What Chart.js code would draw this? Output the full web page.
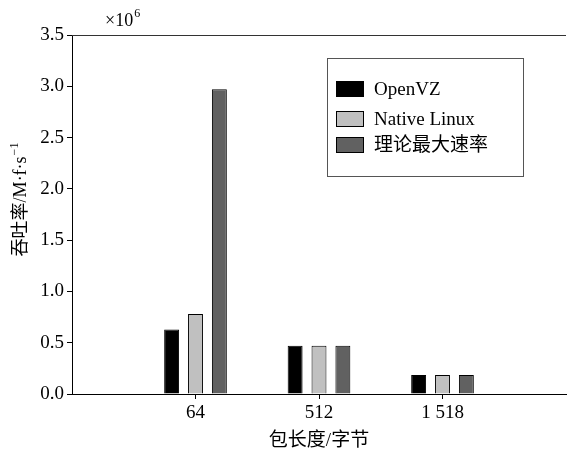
<!DOCTYPE html>
<html>
<head>
<meta charset="utf-8">
<script src="https://cdn.jsdelivr.net/npm/chart.js@4/dist/chart.umd.min.js"></script>
<style>
  html, body { margin: 0; padding: 0; background: #fff; }
  #wrap { width: 569px; height: 455px; }
</style>
</head>
<body>
<div id="wrap"><canvas id="c" width="569" height="455"></canvas></div>
<script>
// ---- data ----
const categories = ['', '64', '512', '1 518', ''];
const seriesNames = ['OpenVZ', 'Native Linux', '理论最大速率'];
const openvzValues = [null, 0.63, 0.47, 0.185, null];
const nativeLinuxValues = [null, 0.78, 0.47, 0.185, null];
const maxRateValues = [null, 2.97, 0.47, 0.185, null];
const yTickValues = [0, 0.5, 1.0, 1.5, 2.0, 2.5, 3.0, 3.5];
const xTitle = '包长度/字节';
const yTitleMain = '吞吐率/M·f·s';
const yTitleSup = '−1';
const multiplierMain = '×10';
const multiplierSup = '6';

const SERIF = '"Liberation Serif", "Noto Sans CJK SC", serif';
Chart.defaults.font.family = SERIF;
Chart.defaults.color = '#000';

const decor = {
  id: 'decor',
  afterDraw(chart) {
    const { ctx, chartArea: a } = chart;
    ctx.save();
    // top frame line
    ctx.strokeStyle = '#333';
    ctx.lineWidth = 1;
    ctx.beginPath();
    ctx.moveTo(a.left, Math.round(a.top) + 0.5);
    ctx.lineTo(a.right, Math.round(a.top) + 0.5);
    ctx.stroke();

    // multiplier
    ctx.fillStyle = '#000';
    ctx.textBaseline = 'alphabetic';
    ctx.textAlign = 'left';
    ctx.font = '18px ' + SERIF;
    ctx.fillText(multiplierMain, 105, 26);
    const mw = ctx.measureText(multiplierMain).width;
    ctx.font = '12px ' + SERIF;
    ctx.fillText(multiplierSup, 105 + mw + 1, 17);

    // y title (rotated)
    ctx.save();
    ctx.translate(26, 200);
    ctx.rotate(-Math.PI / 2);
    ctx.font = '18px ' + SERIF;
    const w1 = ctx.measureText(yTitleMain).width;
    ctx.font = '12px ' + SERIF;
    const w2 = ctx.measureText(yTitleSup).width;
    const start = -(w1 + w2) / 2;
    ctx.font = '18px ' + SERIF;
    ctx.fillStyle = '#000';
    ctx.fillText(yTitleMain, start, 0);
    ctx.font = '12px ' + SERIF;
    ctx.fillText(yTitleSup, start + w1 + 1, -8);
    ctx.restore();

    // legend box
    ctx.strokeStyle = '#555';
    ctx.lineWidth = 1;
    ctx.strokeRect(327.5, 58.5, 196, 118);
    const ys = [81, 111, 137];
    chart.data.datasets.forEach((ds, i) => {
      ctx.fillStyle = ds.backgroundColor;
      ctx.fillRect(336, ys[i], 28, 16);
      ctx.strokeStyle = '#000';
      ctx.strokeRect(336.5, ys[i] + 0.5, 27, 15);
      ctx.fillStyle = '#000';
      ctx.font = '19px ' + SERIF;
      ctx.textBaseline = 'middle';
      ctx.fillText(ds.label, 374, ys[i] + 9);
    });
    ctx.restore();
  }
};

const barOpts = { borderColor: '#000', borderWidth: 1, barPercentage: 0.625, categoryPercentage: 0.58 };

new Chart(document.getElementById('c'), {
  type: 'bar',
  data: {
    labels: categories,
    datasets: [
      Object.assign({ label: seriesNames[0], data: openvzValues, backgroundColor: '#000000' }, barOpts),
      Object.assign({ label: seriesNames[1], data: nativeLinuxValues, backgroundColor: '#c0c0c0' }, barOpts),
      Object.assign({ label: seriesNames[2], data: maxRateValues, backgroundColor: '#616161' }, barOpts)
    ]
  },
  options: {
    responsive: false,
    animation: false,
    devicePixelRatio: 1,
    layout: { padding: { top: 35, right: 0, left: 0, bottom: 0 } },
    plugins: { legend: { display: false }, tooltip: { enabled: false } },
    scales: {
      x: {
        offset: false,
        grid: {
          offset: false,
          drawOnChartArea: false,
          drawTicks: true,
          tickLength: 5,
          color: (c) => (c.tick && c.tick.label ? '#000' : 'rgba(0,0,0,0)')
        },
        border: { display: true, color: '#000', width: 1 },
        ticks: { font: { size: 19 }, color: '#000', padding: 3, maxRotation: 0, autoSkip: false },
        title: { display: true, text: xTitle, font: { size: 19 }, color: '#000', padding: { top: 0, bottom: 3 } },
        afterFit: (s) => { s.height = 61; }
      },
      y: {
        min: 0,
        max: 3.5,
        afterBuildTicks: (s) => { s.ticks = yTickValues.map(v => ({ value: v })); },
        grid: { drawOnChartArea: false, drawTicks: true, tickLength: 5, color: '#000' },
        border: { display: true, color: '#000', width: 1 },
        ticks: { font: { size: 19 }, color: '#000', padding: 3, callback: (v) => Number(v).toFixed(1) },
        afterFit: (s) => { s.width = 72; }
      }
    }
  },
  plugins: [decor]
});
</script>
</body>
</html>
